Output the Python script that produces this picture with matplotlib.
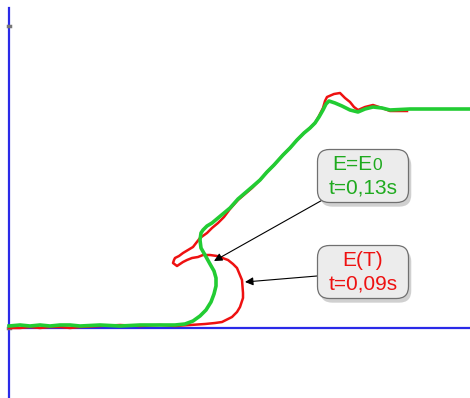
import numpy as np
import matplotlib.pyplot as plt
from matplotlib.patches import FancyBboxPatch
import matplotlib.patheffects as pe

# curve (x right, y up; units = px of the original)
green_x = [9, 20, 30, 40, 50, 60, 70, 80, 100, 120, 140, 160, 175, 185, 193, 200, 206, 211, 214, 216, 216,
           214, 210, 205, 201, 200, 201, 203, 207, 212, 218, 224, 230, 238, 245, 252, 260, 267, 274, 283,
           290, 297, 304, 310, 315, 319, 323, 326, 329, 335, 342, 350, 358, 365, 373, 382, 390, 410, 430, 450, 470]
green_y = [72, 73, 72, 73, 72, 73, 73, 72, 73, 72, 73, 73, 73, 74, 77, 82, 88, 96, 104, 112, 120,
           127, 134, 143, 150, 158, 165, 168, 172, 175, 180, 185, 190, 199, 205, 211, 218, 226, 233, 243,
           250, 258, 265, 270, 275, 281, 288, 294, 297, 295, 292, 288, 286, 289, 291, 290, 288, 289, 289, 289, 289]
red_x = [9, 20, 30, 40, 50, 60, 70, 80, 100, 120, 140, 160, 175, 190, 205, 215, 222, 232, 237, 240, 243,
         243, 242, 237, 233, 228, 217, 210, 203, 198, 192, 187, 183, 177, 173, 174, 175, 179, 183, 188,
         193, 200, 207, 212, 218, 224, 230, 238, 245, 252, 260, 267, 274, 283, 290, 297, 304, 310, 315,
         319, 323, 325, 327, 334, 340, 345, 350, 354, 358, 365, 373, 382, 390, 400, 407]
red_y = [70, 70, 71, 70, 71, 71, 70, 71, 72, 73, 72, 73, 72, 73, 74, 75, 76, 81, 86, 91, 100,
         105, 118, 130, 134, 138, 142, 143, 143, 141, 140, 138, 136, 132, 135, 138, 140, 142, 145, 148,
         151, 160, 165, 170, 175, 181, 189, 198, 204, 210, 218, 226, 233, 243, 250, 258, 265, 270, 275,
         282, 290, 297, 301, 304, 305, 300, 296, 291, 288, 291, 293, 290, 287, 287, 287]

labels = [("E=E", "0", "t=0,13s"), ("E(T)", "", "t=0,09s")]
label_colors = ["#1eaa1e", "#ee1111"]
box_pos = [(363, 222), (363, 126)]
arrow_tips = [(214, 137), (245, 116)]
arrow_tails = [(326, 200), (317, 122)]

fig = plt.figure(figsize=(4.7, 3.98), dpi=100)
ax = fig.add_axes([0, 0, 1, 1])
ax.set_xlim(0, 470)
ax.set_ylim(0, 398)
ax.axis("off")

# axes drawn as plain blue lines
ax.plot([9, 9], [0, 390], color="#2a2ae8", lw=1.6, zorder=1)
ax.plot([9, 470], [70, 70], color="#2a2ae8", lw=1.6, zorder=1)
ax.plot([8, 10], [372, 372], color="#777777", lw=2.5, zorder=2)
ax.plot([8, 10], [70, 70], color="#777777", lw=2.5, zorder=2)

ax.plot(red_x, red_y, color="#ee1111", lw=1.8, zorder=3, solid_joinstyle="round")
ax.plot(green_x, green_y, color="#22cc33", lw=2.6, zorder=4, solid_joinstyle="round")

for (t1, sub, t2), c, (bx, by), tip, tail in zip(labels, label_colors, box_pos, arrow_tips, arrow_tails):
    ax.annotate("", xy=tip, xytext=tail,
                arrowprops=dict(arrowstyle="-|>", color="black", lw=0.8, mutation_scale=12,
                                shrinkA=0, shrinkB=0), zorder=5)
    box = FancyBboxPatch((bx - 44, by - 25), 88, 50, boxstyle="round,pad=1.5,rounding_size=12",
                         facecolor="#ececec", edgecolor="#707070", lw=0.9, zorder=6,
                         path_effects=[pe.SimplePatchShadow(offset=(2, -3), alpha=0.25), pe.Normal()])
    ax.add_patch(box)
    if sub:
        ax.text(bx + 9, by + 12, t1, color=c, fontsize=15, family="Liberation Sans",
                ha="right", va="center", zorder=7)
        ax.text(bx + 9, by + 11, sub, color=c, fontsize=12.5, family="Liberation Sans",
                ha="left", va="center", zorder=7)
    else:
        ax.text(bx, by + 12, t1, color=c, fontsize=15, family="Liberation Sans",
                ha="center", va="center", zorder=7)
    ax.text(bx, by - 12, t2, color=c, fontsize=15, family="Liberation Sans",
            ha="center", va="center", zorder=7)

fig.savefig("out.png", dpi=100)
